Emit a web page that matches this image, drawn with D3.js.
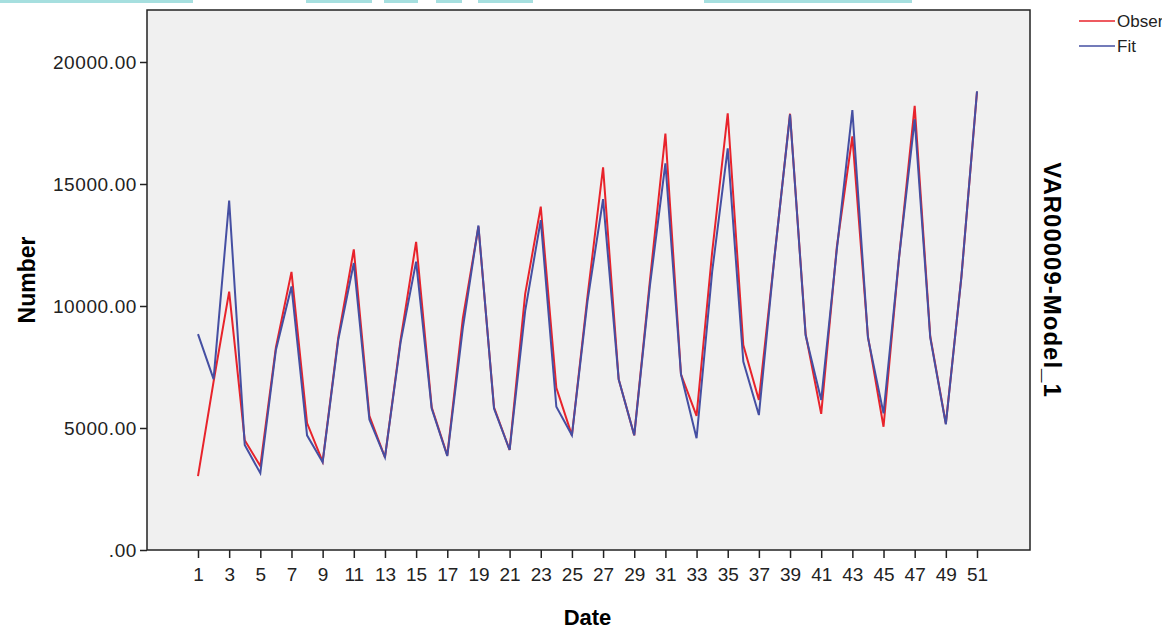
<!DOCTYPE html>
<html>
<head>
<meta charset="utf-8">
<script src="https://cdn.jsdelivr.net/npm/d3@7"></script>
<style>
  html, body { margin: 0; padding: 0; background: #ffffff; overflow: hidden; }
  svg { display: block; }
</style>
</head>
<body>
<div id="chart"></div>
<script>
// Data
var dates = [1, 2, 3, 4, 5, 6, 7, 8, 9, 10, 11, 12, 13, 14, 15, 16, 17, 18, 19, 20,
             21, 22, 23, 24, 25, 26, 27, 28, 29, 30, 31, 32, 33, 34, 35, 36, 37, 38, 39, 40,
             41, 42, 43, 44, 45, 46, 47, 48, 49, 50, 51];

var observed = [3030, 6900, 10590, 4500, 3440, 8300, 11400, 5200, 3620, 8700,
                12320, 5500, 3800, 8600, 12630, 5850, 3880, 9500, 13250, 5850,
                4100, 10500, 14070, 6650, 4700, 10400, 15680, 7000, 4700, 11000,
                17070, 7200, 5500, 12200, 17900, 8400, 6150, 12000, 17880, 8850,
                5580, 12400, 16950, 8750, 5050, 12000, 18200, 8750, 5180, 11200,
                18780];

var fit = [8850, 7000, 14320, 4300, 3150, 8200, 10800, 4700, 3600, 8600,
           11760, 5350, 3800, 8500, 11820, 5800, 3850, 9100, 13300, 5800,
           4100, 9800, 13520, 5870, 4700, 10200, 14380, 7000, 4700, 10800,
           15850, 7200, 4580, 11400, 16460, 7720, 5530, 12000, 17850, 8800,
           6150, 12300, 18030, 8700, 5600, 12000, 17650, 8700, 5150, 11200,
           18800];

var yTicks = [0, 5000, 10000, 15000, 20000];
var xTicks = [1, 3, 5, 7, 9, 11, 13, 15, 17, 19, 21, 23, 25, 27, 29, 31, 33, 35,
              37, 39, 41, 43, 45, 47, 49, 51];
var seriesNames = ["Observed", "Fit"];
var seriesColors = ["#e8232b", "#454fa2"];

// Graph area
var W = 1162, H = 631;
var margin = {top: 10, right: 132, bottom: 81, left: 147},
    width = W - margin.left - margin.right,    // 883
    height = H - margin.top - margin.bottom;   // 540

var sans = "'Liberation Sans', Arial, sans-serif",
    narrow = "'Liberation Sans Narrow', 'Arial Narrow', 'Liberation Sans', sans-serif";

var svg = d3.select("#chart")
    .append("svg")
        .attr("width", W)
        .attr("height", H);

// cropped strip at the very top of the screenshot
var strips = [[0, 193], [306, 372], [384, 418], [436, 462], [478, 533], [704, 912]];
svg.selectAll(".strip")
    .data(strips)
    .enter()
    .append("rect")
    .attr("class", "strip")
    .attr("x", function(d) { return d[0]; })
    .attr("y", 0)
    .attr("width", function(d) { return d[1] - d[0]; })
    .attr("height", 3)
    .style("fill", "#a6dfdf");

var g = svg.append("g")
    .attr("transform", "translate(" + margin.left + "," + margin.top + ")");

// Scales
var x = d3.scaleLinear()
    .domain([1, 51])
    .range([51, 830]);

var y = d3.scaleLinear()
    .domain([0, 22131])
    .range([height, 0]);

// plot background
g.append("rect")
    .attr("width", width)
    .attr("height", height)
    .style("fill", "#f0f0f0");

// Y axis
var yAxis = g.append("g")
    .call(d3.axisLeft(y)
        .tickValues(yTicks)
        .tickSize(7)
        .tickPadding(3)
        .tickFormat(function(d) { return d === 0 ? ".00" : d3.format(".2f")(d); }));
yAxis.select(".domain").remove();
yAxis.selectAll(".tick line").style("stroke", "#222").style("stroke-width", 1.5);
yAxis.selectAll("text")
    .style("font-family", sans)
    .style("font-size", "19px")
    .style("letter-spacing", "0.6px")
    .style("fill", "#222");

// X axis
var xAxis = g.append("g")
    .attr("transform", "translate(0," + height + ")")
    .call(d3.axisBottom(x)
        .tickValues(xTicks)
        .tickSize(8)
        .tickPadding(10)
        .tickFormat(d3.format("d")));
xAxis.select(".domain").remove();
xAxis.selectAll(".tick line").style("stroke", "#222").style("stroke-width", 1.5);
xAxis.selectAll("text")
    .style("font-family", narrow)
    .style("font-size", "19px")
    .style("fill", "#222");

// Lines (observed first, fit drawn on top)
var line = d3.line()
    .x(function(d) { return x(d.date); })
    .y(function(d) { return y(d.value); });

var series = [observed, fit].map(function(vals, i) {
    return {
        name: seriesNames[i],
        color: seriesColors[i],
        values: dates.map(function(dt, j) { return {date: dt, value: vals[j]}; })
    };
});

g.selectAll(".series")
    .data(series)
    .enter()
    .append("path")
    .attr("class", "series")
    .attr("d", function(d) { return line(d.values); })
    .style("fill", "none")
    .style("stroke", function(d) { return d.color; })
    .style("stroke-width", 2)
    .style("stroke-linejoin", "miter");

// frame
g.append("rect")
    .attr("width", width)
    .attr("height", height)
    .style("fill", "none")
    .style("stroke", "#222")
    .style("stroke-width", 1.5);

// Axis titles
svg.append("text")
    .attr("transform", "translate(35," + (margin.top + height / 2) + ") rotate(-90)")
    .attr("text-anchor", "middle")
    .style("font-family", sans)
    .style("font-size", "23px")
    .style("font-weight", "bold")
    .text("Number");

svg.append("text")
    .attr("x", margin.left + x(26))
    .attr("y", 625)
    .attr("text-anchor", "middle")
    .style("font-family", sans)
    .style("font-size", "22px")
    .style("font-weight", "bold")
    .text("Date");

svg.append("text")
    .attr("transform", "translate(1044," + (margin.top + height / 2) + ") rotate(90)")
    .attr("text-anchor", "middle")
    .style("font-family", sans)
    .style("font-size", "24px")
    .style("font-weight", "bold")
    .style("letter-spacing", "1px")
    .text("VAR00009-Model_1");

// Legend
var legend = svg.selectAll(".legend")
    .data(series)
    .enter()
    .append("g")
    .attr("class", "legend")
    .attr("transform", function(d, i) { return "translate(1079," + (21 + i * 25) + ")"; });

legend.append("line")
    .attr("x1", 0)
    .attr("x2", 36)
    .style("stroke", function(d) { return d.color; })
    .style("stroke-width", 1.5);

legend.append("text")
    .attr("x", 38)
    .attr("dy", "0.35em")
    .style("font-family", sans)
    .style("font-size", "17px")
    .style("fill", "#222")
    .text(function(d) { return d.name; });
</script>
</body>
</html>
